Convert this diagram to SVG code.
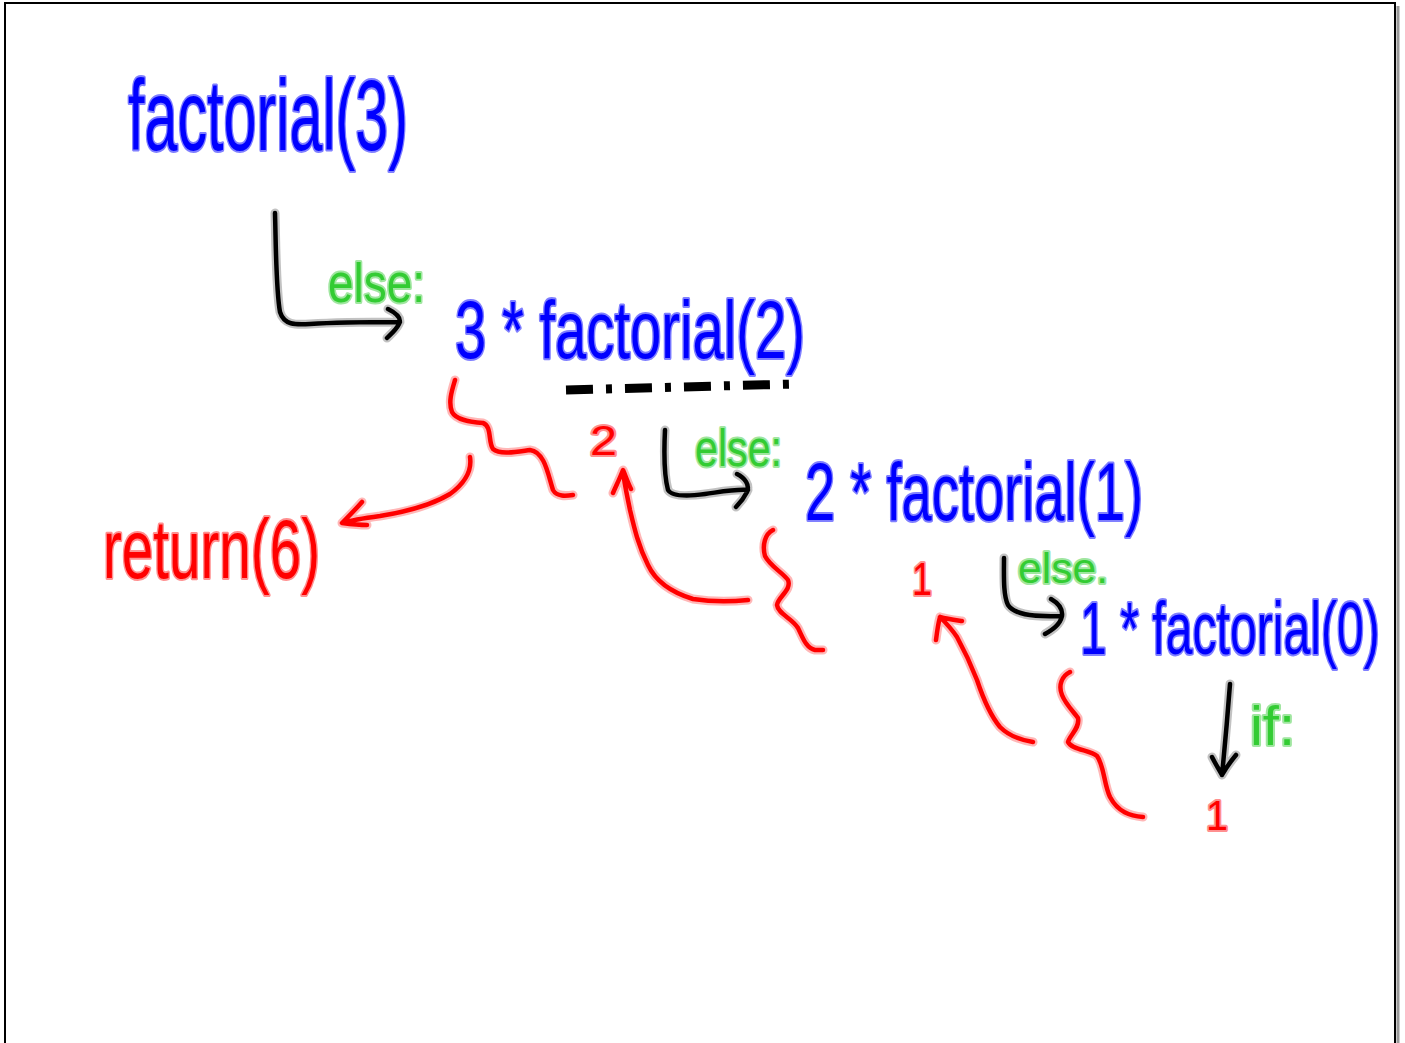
<svg xmlns="http://www.w3.org/2000/svg" width="1405" height="1043" viewBox="0 0 1405 1043">
<style>
.bg{fill:#fff}
.frame{fill:none;stroke:#000;stroke-width:2}
.shadow{fill:none;stroke:#999;stroke-width:3}
text{font-family:"Liberation Sans","DejaVu Sans",sans-serif;paint-order:stroke;stroke-linejoin:round;stroke-width:4}
.blue{fill:#0000ff;stroke:#8080ff}
.green{fill:#33cc33;stroke:#a0e6a0}
.red{fill:#ff0000;stroke:#ff9090}
.h{fill:none;stroke-linecap:round;stroke-linejoin:round;stroke-width:9;stroke-opacity:.45}
.s{fill:none;stroke-linecap:round;stroke-linejoin:round;stroke-width:4.5}
.kh{stroke:#777}.ks{stroke:#000}
.rh{stroke:#ff6060}.rs{stroke:#ff0000}
.dash{fill:none;stroke:#000;stroke-width:9;stroke-dasharray:27 13 6 13;stroke-linecap:butt}
</style>
<defs>
<g id="blkL1"><path d="M275,213 C276,250 276,290 280,312 C284,325 295,325 310,324 C340,322 370,322 400,322 M388,309 C396,313 402,318 399,324 C396,330 391,334 387,338"/></g>
<g id="blkL2"><path d="M665,430 C664,450 664,475 668,490 C672,497 690,496 705,494 C720,492 735,489 748,490 M737,474 C745,478 750,485 747,492 C744,498 740,503 736,507"/></g>
<g id="blkL3"><path d="M1004,558 C1004,575 1003,595 1008,605 C1014,614 1030,617 1060,616 M1051,599 C1058,603 1063,608 1062,616 C1060,625 1052,630 1045,634"/></g>
<g id="blkD"><path d="M1230,684 C1228,710 1225,745 1222,775 M1212,757 C1216,765 1220,771 1222,775 C1226,768 1231,761 1236,755"/></g>
<g id="redB1"><path d="M455,380 C452,390 448,402 452,412 C456,420 470,422 483,423 C492,426 488,442 493,449 C500,455 515,452 530,450 C545,452 548,475 553,490 C557,497 566,496 573,495"/></g>
<g id="redA1"><path d="M470,457 C472,470 465,483 450,494 C430,506 405,512 380,516 C365,518 352,520 343,523 M362,502 C355,510 348,517 342,523 C350,524 358,525 367,525"/></g>
<g id="redA2"><path d="M748,600 C730,602 712,602 693,599 C670,592 655,580 648,565 C638,545 634,527 630,510 C627,495 624,482 623,471 M613,493 C616,486 620,478 623,470 C626,477 628,483 631,489"/></g>
<g id="redB2"><path d="M773,530 C765,534 762,545 765,556 C770,566 782,572 788,580 C792,590 778,597 777,605 C778,614 792,618 798,628 C803,638 806,648 815,650 C818,650 821,650 823,650"/></g>
<g id="redA3"><path d="M1033,742 C1020,740 1008,735 1000,727 C990,715 983,698 977,680 C970,662 963,648 957,637 C951,628 945,622 940,617 M936,640 C937,632 938,624 940,617 C947,619 955,620 962,621"/></g>
<g id="redB3"><path d="M1070,672 C1062,676 1058,685 1062,695 C1066,705 1074,712 1078,718 C1080,728 1070,735 1068,742 C1072,750 1090,750 1097,756 C1104,765 1104,785 1110,797 C1118,812 1130,816 1143,817"/></g>
</defs>
<rect class="bg" x="0" y="0" width="1405" height="1043"/>
<path class="shadow" d="M1398,6 V1043"/>
<path class="frame" d="M5,1043 V3 H1395 V1043"/>

<g id="connectors">
  <g id="c-else1"><use href="#blkL1" class="h kh"/><use href="#blkL1" class="s ks"/></g>
  <g id="c-else2"><use href="#blkL2" class="h kh"/><use href="#blkL2" class="s ks"/></g>
  <g id="c-else3"><use href="#blkL3" class="h kh"/><use href="#blkL3" class="s ks"/></g>
  <g id="c-if"><use href="#blkD" class="h kh"/><use href="#blkD" class="s ks"/></g>
  <g id="c-brace1"><use href="#redB1" class="h rh"/><use href="#redB1" class="s rs"/></g>
  <g id="c-ret6"><use href="#redA1" class="h rh"/><use href="#redA1" class="s rs"/></g>
  <g id="c-ret2"><use href="#redA2" class="h rh"/><use href="#redA2" class="s rs"/></g>
  <g id="c-brace2"><use href="#redB2" class="h rh"/><use href="#redB2" class="s rs"/></g>
  <g id="c-ret1"><use href="#redA3" class="h rh"/><use href="#redA3" class="s rs"/></g>
  <g id="c-brace3"><use href="#redB3" class="h rh"/><use href="#redB3" class="s rs"/></g>
  <path id="c-underline" class="dash" d="M566,390 L794,384"/>
</g>

<g id="n-fact3"><text class="blue" x="128" y="150" font-size="100" textLength="280" lengthAdjust="spacingAndGlyphs">factorial(3)</text></g>
<g id="n-else1"><text class="green" x="328" y="302" font-size="56" textLength="97" lengthAdjust="spacingAndGlyphs">else:</text></g>
<g id="n-fact2"><text class="blue" x="455" y="358" font-size="82" textLength="350" lengthAdjust="spacingAndGlyphs">3 * factorial(2)</text></g>
<g id="n-two"><text class="red" x="590" y="455" font-size="42" textLength="27" lengthAdjust="spacingAndGlyphs">2</text></g>
<g id="n-else2"><text class="green" x="695" y="466" font-size="52" textLength="87" lengthAdjust="spacingAndGlyphs">else:</text></g>
<g id="n-fact1"><text class="blue" x="805" y="520" font-size="82" textLength="338" lengthAdjust="spacingAndGlyphs">2 * factorial(1)</text></g>
<g id="n-return"><text class="red" x="103" y="578" font-size="84" textLength="217" lengthAdjust="spacingAndGlyphs">return(6)</text></g>
<g id="n-one1"><text class="red" x="912" y="595" font-size="46" textLength="20" lengthAdjust="spacingAndGlyphs">1</text></g>
<g id="n-else3"><text class="green" x="1018" y="583" font-size="42" textLength="90" lengthAdjust="spacingAndGlyphs">else.</text></g>
<g id="n-fact0"><text class="blue" transform="translate(1080,654) scale(0.651,1)" x="0" y="0" font-size="74">1 * factorial(0)</text></g>
<g id="n-if"><text class="green" x="1250" y="745" font-size="56" textLength="45" lengthAdjust="spacingAndGlyphs">if:</text></g>
<g id="n-one2"><text class="red" x="1206" y="830" font-size="42" textLength="22" lengthAdjust="spacingAndGlyphs">1</text></g>
</svg>
